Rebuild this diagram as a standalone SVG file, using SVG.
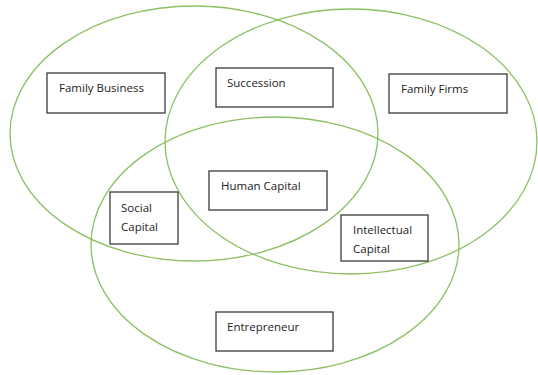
<svg xmlns="http://www.w3.org/2000/svg" width="538" height="375" viewBox="0 0 538 375">
<style>
.ring{fill:none;stroke:#8cc063;stroke-width:1.3}
.box{fill:#fff;stroke:#3a3a3a;stroke-width:1.3}
text{font-family:"Open Sans","Liberation Sans",Arial,sans-serif;font-size:11.5px;fill:#222}
</style>
<rect width="538" height="375" fill="#fff"/>
<g id="sets">
<ellipse class="ring" cx="194" cy="133.5" rx="184" ry="127.5"/>
<ellipse class="ring" cx="351" cy="141.5" rx="186" ry="132.5"/>
<ellipse class="ring" cx="275" cy="244.5" rx="184" ry="127.5"/>
</g>
<g id="family-business"><rect class="box" x="47" y="73" width="118" height="40"/><text x="59" y="92">Family Business</text></g>
<g id="succession"><rect class="box" x="216" y="68" width="117" height="39"/><text x="227" y="87">Succession</text></g>
<g id="family-firms"><rect class="box" x="389" y="74" width="118" height="39"/><text x="401" y="93">Family Firms</text></g>
<g id="human-capital"><rect class="box" x="209" y="171" width="118" height="39"/><text x="221" y="190">Human Capital</text></g>
<g id="social-capital"><rect class="box" x="110" y="192" width="68" height="52"/><text x="121" y="212">Social</text><text x="121" y="231">Capital</text></g>
<g id="intellectual-capital"><rect class="box" x="341" y="215" width="87" height="46"/><text x="353" y="234">Intellectual</text><text x="353" y="253">Capital</text></g>
<g id="entrepreneur"><rect class="box" x="216" y="312" width="117" height="39"/><text x="227" y="331">Entrepreneur</text></g>
</svg>
